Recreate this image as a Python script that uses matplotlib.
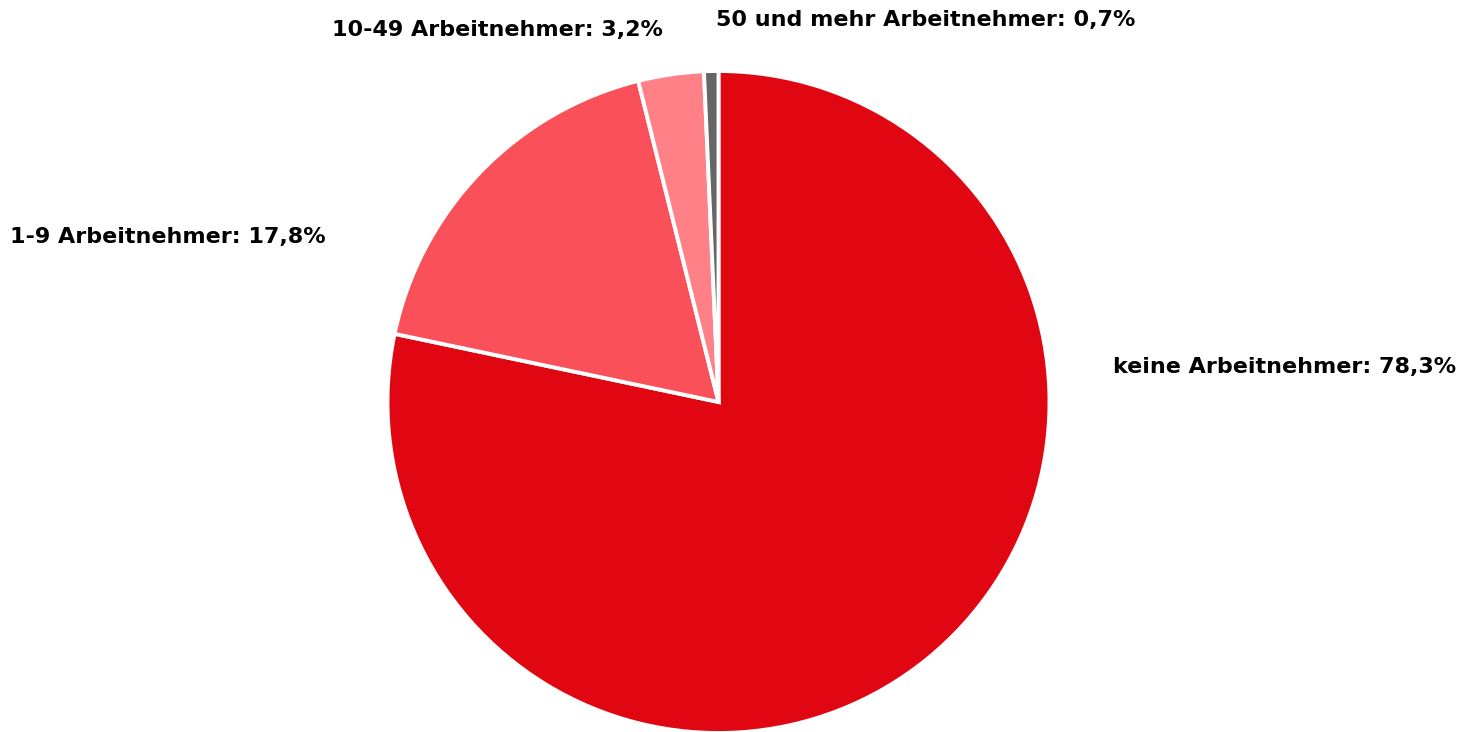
import matplotlib.pyplot as plt

# data
labels = ['keine Arbeitnehmer', '1-9 Arbeitnehmer', '10-49 Arbeitnehmer', '50 und mehr Arbeitnehmer']
values = [78.3, 17.8, 3.2, 0.7]
colors = ['#E10712', '#F9505A', '#FF8086', '#666666']

# label anchor points (left edge, vertical centre) in pixel coords, y from top
label_pos = [(1113, 367), (10, 237), (332, 30), (716, 20)]

W, H = 1463, 732
fig = plt.figure(figsize=(W / 100, H / 100), dpi=100)
ax = fig.add_axes([0, 0, 1, 1])
ax.axis('off')

ax.pie(values, colors=colors, startangle=90, counterclock=False,
       center=(718.5, H - 402), radius=331,
       wedgeprops=dict(edgecolor='white', linewidth=2.8))
ax.set_xlim(0, W)
ax.set_ylim(0, H)
ax.set_aspect('equal')

for lab, val, (x, y) in zip(labels, values, label_pos):
    txt = f'{lab}: {val:.1f}%'.replace('.', ',')
    ax.text(x, H - y, txt, ha='left', va='center', fontsize=16,
            fontweight='bold', family='DejaVu Sans', color='black')

fig.savefig('out.png', dpi=100, facecolor='white')
